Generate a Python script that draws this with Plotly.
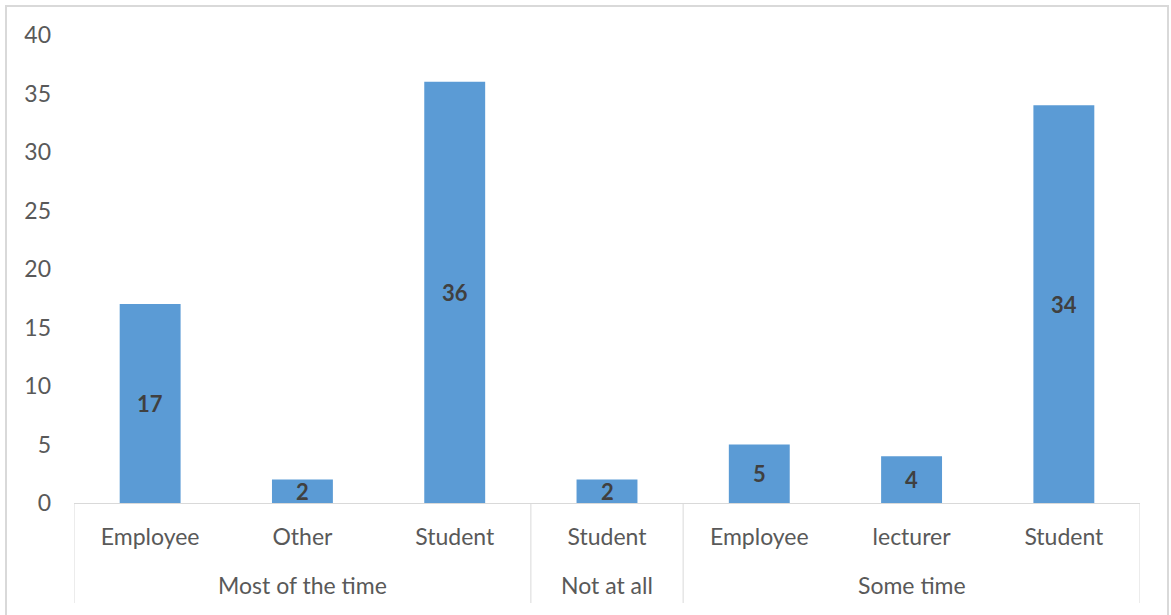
import plotly.graph_objects as go

# Responses grouped by frequency, then by role
groups = ["Most of the time", "Most of the time", "Most of the time",
          "Not at all",
          "Some time", "Some time", "Some time"]
roles = ["Employee", "Other", "Student", "Student", "Employee", "lecturer", "Student"]
counts = [17, 2, 36, 2, 5, 4, 34]

y_ticks = [0, 5, 10, 15, 20, 25, 30, 35, 40]

BAR = "#5B9BD5"
GRID = "#D9D9D9"
TXT = "#595959"
FONT = "Lato"
FS = 23

x = list(range(len(counts)))

fig = go.Figure(go.Bar(
    x=x, y=counts, width=0.4,
    marker=dict(color=BAR, line=dict(width=0)),
    hoverinfo="skip",
))

# value labels centred inside each bar
for xi, v in zip(x, counts):
    fig.add_annotation(x=xi, y=v / 2, text=str(v), showarrow=False,
                       xref="x", yref="y", yanchor="middle",
                       font=dict(family=FONT, size=22, color="#404040", weight="bold"))

# outer group labels and dividers
spans = []
start = 0
for i in range(1, len(groups) + 1):
    if i == len(groups) or groups[i] != groups[start]:
        spans.append((groups[start], start, i - 1))
        start = i

PLOT_H = 468
div_bottom = -(603 - 503) / PLOT_H
grp_y = -(585 - 503) / PLOT_H

edges = [-0.5] + [s[2] + 0.5 for s in spans]
for e in edges:
    fig.add_shape(type="line", xref="x", yref="paper", x0=e, x1=e,
                  y0=0, y1=div_bottom, line=dict(color=GRID, width=1))

for name, a, b in spans:
    fig.add_annotation(x=(a + b) / 2, y=grp_y, xref="x", yref="paper",
                       text=name, showarrow=False, yanchor="middle",
                       font=dict(family=FONT, size=FS, color=TXT))

# chart frame
W, L = 1066, 74
fig.add_shape(type="rect", xref="paper", yref="paper",
              x0=(6 - L) / W, x1=(1168 - L) / W,
              y0=(503 - 620) / PLOT_H, y1=(503 - 6) / PLOT_H,
              line=dict(color=GRID, width=2), layer="below")

fig.update_layout(
    width=1171, height=615,
    margin=dict(l=74, r=31, t=35, b=112),
    paper_bgcolor="white", plot_bgcolor="white",
    showlegend=False,
    font=dict(family=FONT, color=TXT),
)
fig.update_xaxes(
    range=[-0.5, len(counts) - 0.5],
    tickvals=x, ticktext=roles, ticks="",
    tickfont=dict(family=FONT, size=FS, color=TXT),
    showline=True, linecolor=GRID, linewidth=1,
    showgrid=False, zeroline=False, ticklabelstandoff=13,
)
fig.update_yaxes(
    range=[0, 40], tickvals=y_ticks, ticks="",
    tickfont=dict(family=FONT, size=FS, color=TXT),
    showgrid=False, zeroline=False, showline=False,
    ticklabelstandoff=22,
)

fig.write_html("out.html")
